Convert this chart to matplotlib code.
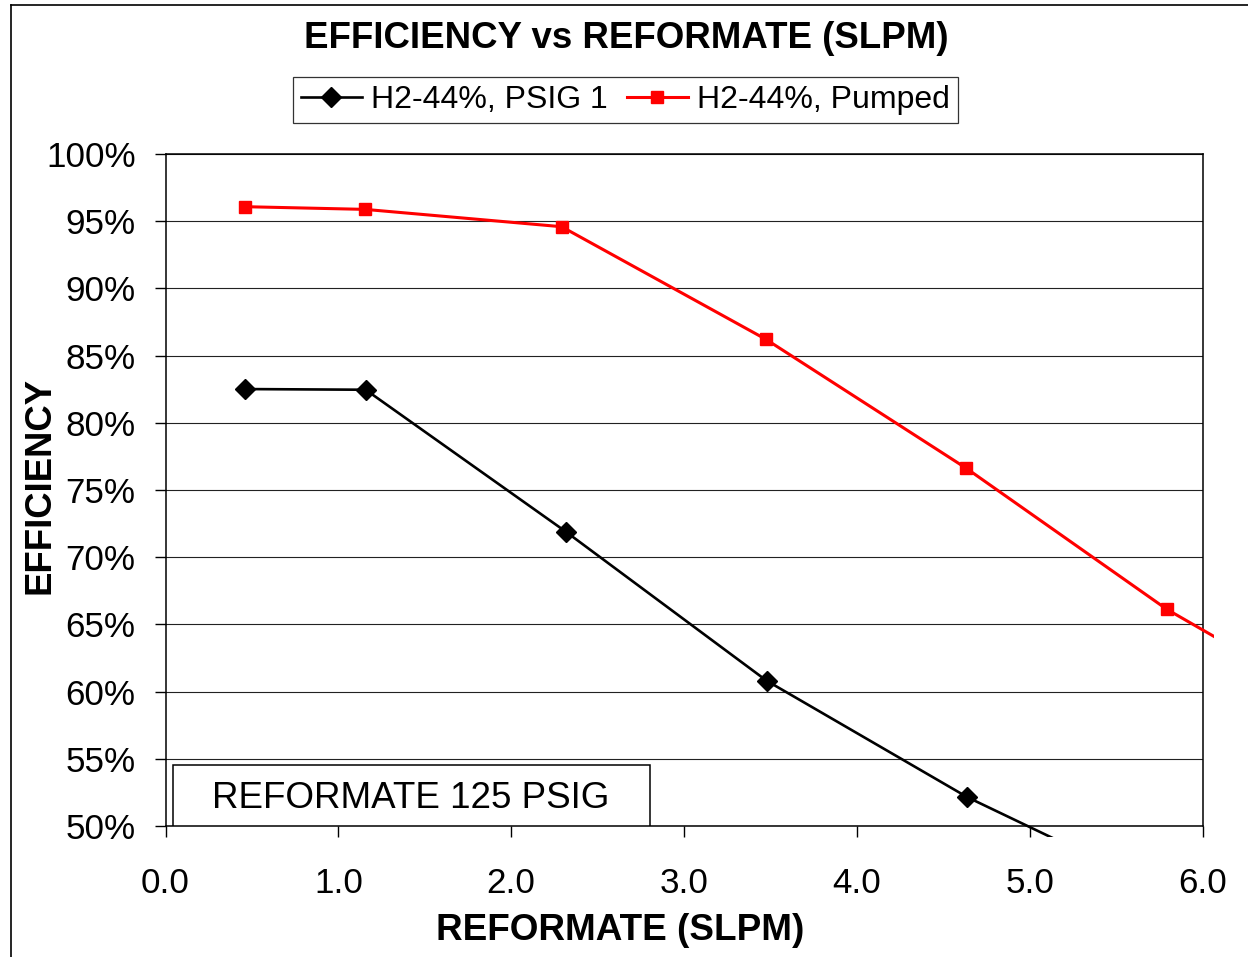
import numpy as np
import matplotlib
matplotlib.use("Agg")
import matplotlib.pyplot as plt
from matplotlib.patches import Rectangle
from matplotlib.lines import Line2D

plt.rcParams['font.family'] = ['Liberation Sans', 'DejaVu Sans']

# data
reformate_psig1 = [0.462, 1.158, 2.316, 3.478, 4.640, 5.800]
eff_psig1 = [82.51, 82.46, 71.90, 60.81, 52.14, 45.0]
reformate_pumped = [0.458, 1.154, 2.292, 3.474, 4.634, 5.794, 7.0]
eff_pumped = [96.08, 95.88, 94.59, 86.21, 76.61, 66.12, 57.2]

y_ticks = [50, 55, 60, 65, 70, 75, 80, 85, 90, 95, 100]
y_ticklabels = ["50%", "55%", "60%", "65%", "70%", "75%", "80%", "85%", "90%", "95%", "100%"]
x_ticks = [0.0, 1.0, 2.0, 3.0, 4.0, 5.0, 6.0]
x_ticklabels = ["0.0", "1.0", "2.0", "3.0", "4.0", "5.0", "6.0"]

W, H = 1248, 957
fig = plt.figure(figsize=(W / 100, H / 100), dpi=100)
L, R, T, B = 165.5, 1202.5, 154, 826
ax = fig.add_axes([L / W, 1 - B / H, (R - L) / W, (B - T) / H])

ax.set_xlim(0, 6)
ax.set_ylim(50, 100)
ax.set_yticks(y_ticks)
ax.set_yticklabels(y_ticklabels)
ax.set_xticks(x_ticks)
ax.set_xticklabels(x_ticklabels)
ax.tick_params(axis='y', length=8, width=1, direction='out', pad=13.5, labelsize=25.2)
ax.tick_params(axis='x', length=8, width=1, direction='out', pad=21.5, labelsize=25.2)
for s in ax.spines.values():
    s.set_linewidth(1.1)
    s.set_color('black')
ax.yaxis.grid(True, color='#222222', linewidth=0.8)
ax.set_axisbelow(True)

# chart-area clip: lines run ~11 px past the plot area
ext = 11
clip = Rectangle(((L - ext) / W, 1 - (B + ext) / H), (R - L + 2 * ext) / W, (B - T + 2 * ext) / H,
                 transform=fig.transFigure, facecolor='none', edgecolor='none')

l1, = ax.plot(reformate_psig1, eff_psig1, color='black', lw=1.9, marker='D', ms=10,
              mec='black', mfc='black', label='H2-44%, PSIG 1', clip_on=True, zorder=3)
l2, = ax.plot(reformate_pumped, eff_pumped, color='#ff0000', lw=2.2, marker='s', ms=8.5,
              mec='#ff0000', mfc='#ff0000', label='H2-44%, Pumped', clip_on=True, zorder=3)
for ln in (l1, l2):
    ln.set_clip_path(clip)

# annotation box
ax.add_patch(Rectangle((7.5 / (R - L), 0.0), 477 / (R - L), 61 / (B - T), transform=ax.transAxes,
                       facecolor='white', edgecolor='black', lw=1.1, zorder=4))
ax.text((411 - L) / (R - L), (B - 799) / (B - T), "REFORMATE 125 PSIG", transform=ax.transAxes,
        ha='center', va='center', fontsize=26.5, zorder=5)

fig.text(626.5 / W, 1 - 38 / H, "EFFICIENCY vs REFORMATE (SLPM)", ha='center', va='center',
         fontsize=26.4, fontweight='bold')
fig.text(620 / W, 1 - 930 / H, "REFORMATE (SLPM)", ha='center', va='center',
         fontsize=26.6, fontweight='bold')
fig.text(40 / W, 1 - 485 / H, "EFFICIENCY", ha='center', va='center', rotation=90,
         fontsize=26.3, fontweight='bold')

leg = fig.legend(handles=[l1, l2], loc='center', bbox_to_anchor=(625.5 / W, 1 - 100 / H),
                 ncol=2, fontsize=23, frameon=True, fancybox=False, handlelength=1.9,
                 handletextpad=0.3, columnspacing=0.6, borderpad=0.25, borderaxespad=0)
leg.get_frame().set_edgecolor('black')
leg.get_frame().set_linewidth(0.9)

# outer chart frame (only left and top edges visible in the crop)
fig.add_artist(Line2D([11 / W, 11 / W], [0, 1 - 5 / H], transform=fig.transFigure, color='black', lw=1.2))
fig.add_artist(Line2D([11 / W, 1], [1 - 5 / H, 1 - 5 / H], transform=fig.transFigure, color='black', lw=1.2))

fig.savefig("out.png", dpi=100)
